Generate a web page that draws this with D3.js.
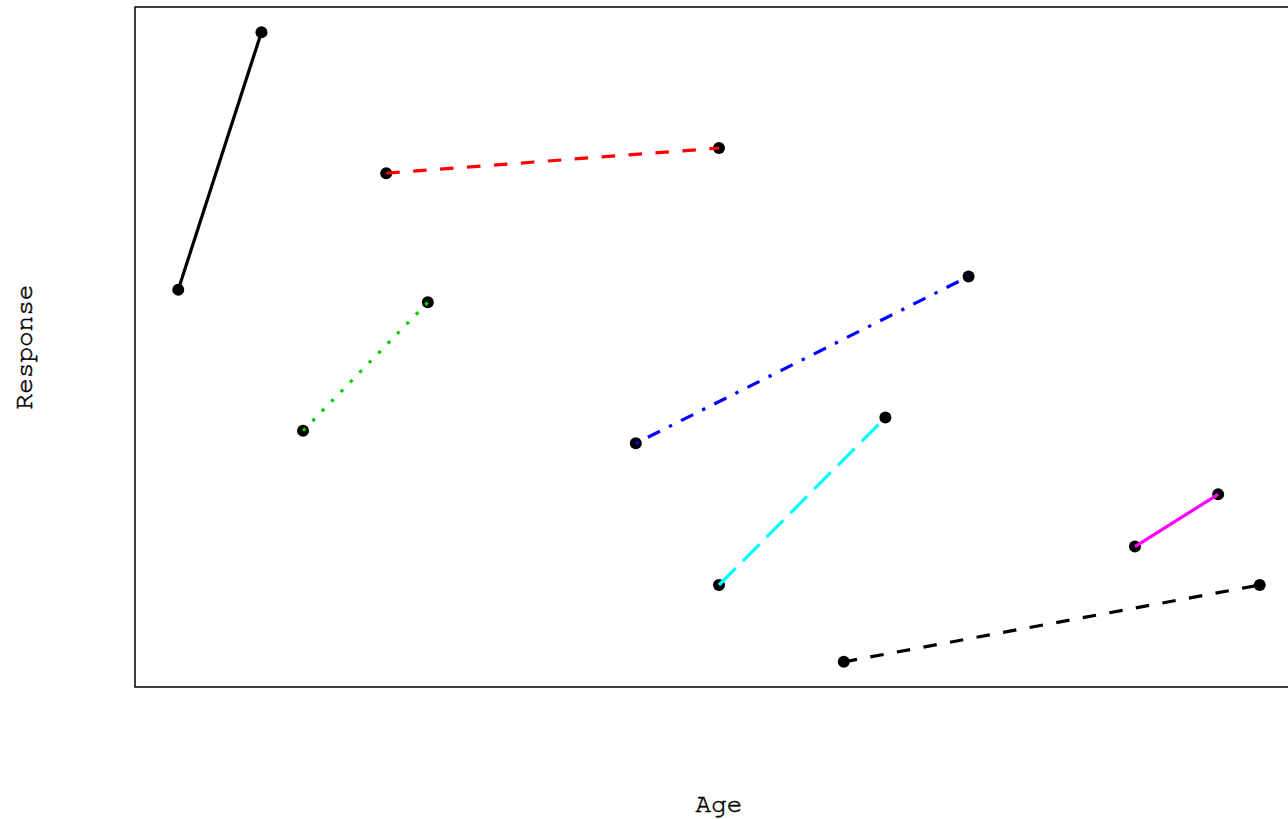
<!DOCTYPE html>
<html><head><meta charset="utf-8">
<script src="https://cdn.jsdelivr.net/npm/d3@7"></script>
<style>body{margin:0;background:#fff}svg{display:block}</style>
</head><body>
<script>
// Each subject: two (age, response) measurements
const subjects = ["1","2","3","4","5","6","7"];
const ageStart = [20, 25, 23, 31, 33, 43, 36];
const ageEnd   = [22, 33, 26, 39, 37, 45, 46];
const respStart = [59.1, 77.6, 36.7, 34.7, 12.2, 18.3, 0.0];
const respEnd   = [100.0, 81.6, 57.1, 61.2, 38.8, 26.6, 12.2];
const colors = ["#000000", "#FF0000", "#00CD00", "#0000FF", "#00FFFF", "#FF00FF", "#000000"];
const dashUnits = [null, [4,4], [1,3], [1,3,4,3], [7,3], null, [4,4]];

const W = 1288, H = 819;
const svg = d3.select("body").append("svg").attr("width", W).attr("height", H);

const plot = {left: 135, top: 7, right: 1303, bottom: 687};
const allX = ageStart.concat(ageEnd), allY = respStart.concat(respEnd);
const [xmin, xmax] = d3.extent(allX), [ymin, ymax] = d3.extent(allY);
const xpad = (xmax - xmin) * 0.04, ypad = (ymax - ymin) * 0.04;
const x = d3.scaleLinear().domain([xmin - xpad, xmax + xpad]).range([plot.left, plot.right]);
const y = d3.scaleLinear().domain([ymin - ypad, ymax + ypad]).range([plot.bottom, plot.top]);

const data = subjects.map((s, i) => ({s, x0: ageStart[i], x1: ageEnd[i], y0: respStart[i], y1: respEnd[i], c: colors[i], d: dashUnits[i]}));

const u = 3.375;
const pts = [];
data.forEach(d => { pts.push([d.x0, d.y0]); pts.push([d.x1, d.y1]); });
svg.selectAll("circle.pt").data(pts).enter().append("circle")
  .attr("cx", p => x(p[0])).attr("cy", p => y(p[1])).attr("r", 6).attr("fill", "#000");

svg.selectAll("line.seg").data(data).enter().append("line")
  .attr("x1", d => x(d.x0)).attr("y1", d => y(d.y0))
  .attr("x2", d => x(d.x1)).attr("y2", d => y(d.y1))
  .attr("stroke", d => d.c).attr("stroke-width", 3.2)
  .attr("stroke-dasharray", d => d.d ? d.d.map(v => v * u).join(",") : null)
  .attr("stroke-linecap", "butt");

svg.append("rect").attr("x", plot.left).attr("y", plot.top)
  .attr("width", plot.right - plot.left).attr("height", plot.bottom - plot.top)
  .attr("fill", "none").attr("stroke", "#000").attr("stroke-width", 1.5);

const fontStyle = "font-family:'FreeMono','Courier New',monospace;font-size:26px";
svg.append("text").attr("style", fontStyle).attr("x", (plot.left + plot.right) / 2).attr("y", 812)
  .attr("text-anchor", "middle").attr("fill", "#000").attr("stroke", "#000").attr("stroke-width", 0.5).text("Age");
svg.append("text").attr("style", fontStyle).attr("transform", `translate(32,${(plot.top + plot.bottom) / 2}) rotate(-90)`)
  .attr("text-anchor", "middle").attr("fill", "#000").attr("stroke", "#000").attr("stroke-width", 0.5).text("Response");
</script>
</body></html>
